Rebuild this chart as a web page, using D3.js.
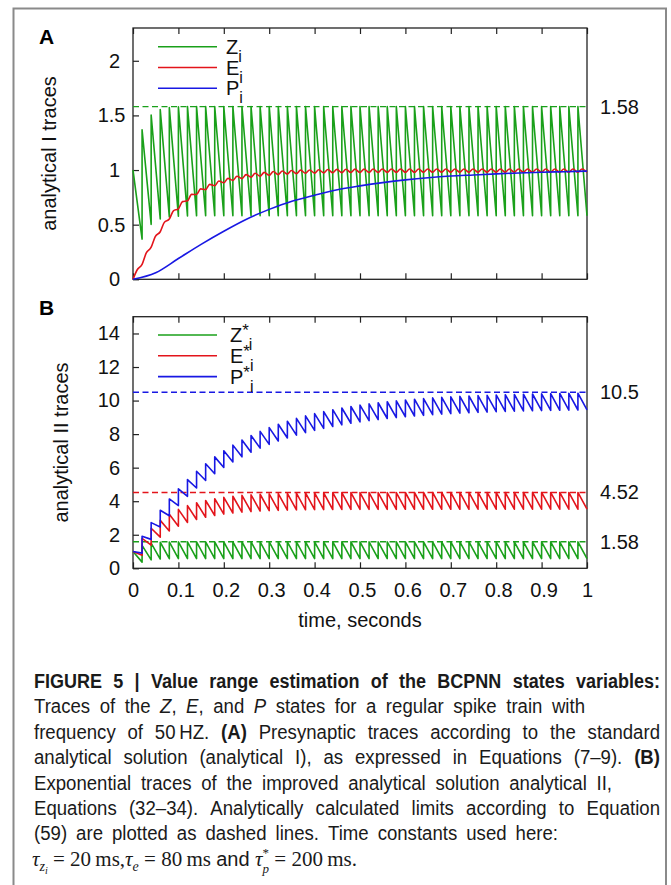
<!DOCTYPE html>
<html>
<head>
<meta charset="utf-8">
<script src="https://cdn.jsdelivr.net/npm/d3@7"></script>
<style>
body { margin: 0; background: #fff; }
svg { display: block; }
</style>
</head>
<body>
<svg id="fig" width="671" height="885"></svg>
<script>
// regular 50 Hz spike train, seconds
const spikeTimes = [0, 0.02, 0.04, 0.06, 0.08, 0.1, 0.12, 0.14, 0.16, 0.18,
	0.2, 0.22, 0.24, 0.26, 0.28, 0.3, 0.32, 0.34, 0.36, 0.38,
	0.4, 0.42, 0.44, 0.46, 0.48, 0.5, 0.52, 0.54, 0.56, 0.58,
	0.6, 0.62, 0.64, 0.66, 0.68, 0.7, 0.72, 0.74, 0.76, 0.78,
	0.8, 0.82, 0.84, 0.86, 0.88, 0.9, 0.92, 0.94, 0.96, 0.98]
const endTime = 1

// Z trace (same in both panels): value right after each spike / right before the next
const zPeak = [1.000, 1.368, 1.503, 1.553, 1.571, 1.578, 1.580, 1.581, 1.582, 1.582,
	1.582, 1.582, 1.582, 1.582, 1.582, 1.582, 1.582, 1.582, 1.582, 1.582,
	1.582, 1.582, 1.582, 1.582, 1.582, 1.582, 1.582, 1.582, 1.582, 1.582,
	1.582, 1.582, 1.582, 1.582, 1.582, 1.582, 1.582, 1.582, 1.582, 1.582,
	1.582, 1.582, 1.582, 1.582, 1.582, 1.582, 1.582, 1.582, 1.582, 1.582]
const zTrough = [0.368, 0.503, 0.553, 0.571, 0.578, 0.580, 0.581, 0.582, 0.582, 0.582,
	0.582, 0.582, 0.582, 0.582, 0.582, 0.582, 0.582, 0.582, 0.582, 0.582,
	0.582, 0.582, 0.582, 0.582, 0.582, 0.582, 0.582, 0.582, 0.582, 0.582,
	0.582, 0.582, 0.582, 0.582, 0.582, 0.582, 0.582, 0.582, 0.582, 0.582,
	0.582, 0.582, 0.582, 0.582, 0.582, 0.582, 0.582, 0.582, 0.582, 0.582]

// analytical I, E trace: value at each spike (local minima) and small bump after it
const eMin = [0, 0.137, 0.294, 0.435, 0.551, 0.645, 0.718, 0.776, 0.821, 0.856,
	0.883, 0.905, 0.921, 0.934, 0.944, 0.952, 0.958, 0.963, 0.967, 0.970,
	0.972, 0.974, 0.975, 0.976, 0.977, 0.977, 0.978, 0.978, 0.979, 0.979,
	0.979, 0.979, 0.980, 0.980, 0.980, 0.980, 0.980, 0.980, 0.980, 0.980,
	0.980, 0.980, 0.980, 0.980, 0.980, 0.980, 0.980, 0.980, 0.980, 0.980, 0.980]
const eMax = [0.085, 0.239, 0.391, 0.521, 0.627, 0.711, 0.777, 0.828, 0.869, 0.900,
	0.924, 0.943, 0.958, 0.970, 0.979, 0.986, 0.991, 0.996, 0.999, 1.001,
	1.003, 1.005, 1.006, 1.007, 1.008, 1.008, 1.009, 1.009, 1.010, 1.010,
	1.010, 1.010, 1.010, 1.010, 1.010, 1.010, 1.010, 1.010, 1.010, 1.010,
	1.010, 1.010, 1.010, 1.010, 1.010, 1.010, 1.010, 1.010, 1.010, 1.010]
const bumpLag = 0.009

// analytical I, P trace (smooth)
const pTimes = [0, 0.05, 0.1, 0.15, 0.2, 0.25, 0.3, 0.35, 0.4, 0.45, 0.5,
	0.55, 0.6, 0.65, 0.7, 0.75, 0.8, 0.85, 0.9, 0.95, 1]
const pVals = [0, 0.06, 0.19, 0.32, 0.44, 0.55, 0.64, 0.715, 0.77, 0.82, 0.855,
	0.885, 0.91, 0.93, 0.945, 0.955, 0.965, 0.973, 0.98, 0.985, 0.99]

// analytical II, E* and P* traces
const eStarPeak = [1.000, 1.779, 2.385, 2.858, 3.226, 3.512, 3.735, 3.909, 4.044, 4.150,
	4.232, 4.296, 4.346, 4.384, 4.415, 4.438, 4.456, 4.471, 4.482, 4.490,
	4.497, 4.502, 4.506, 4.510, 4.512, 4.514, 4.516, 4.517, 4.518, 4.518,
	4.519, 4.519, 4.519, 4.520, 4.520, 4.520, 4.520, 4.520, 4.521, 4.521,
	4.521, 4.521, 4.521, 4.521, 4.521, 4.521, 4.521, 4.521, 4.521, 4.521]
const eStarTrough = [0.779, 1.385, 1.858, 2.226, 2.512, 2.735, 2.909, 3.044, 3.150, 3.232,
	3.296, 3.346, 3.384, 3.415, 3.438, 3.456, 3.471, 3.482, 3.490, 3.497,
	3.502, 3.506, 3.510, 3.512, 3.514, 3.516, 3.517, 3.518, 3.518, 3.519,
	3.519, 3.519, 3.520, 3.520, 3.520, 3.520, 3.520, 3.521, 3.521, 3.521,
	3.521, 3.521, 3.521, 3.521, 3.521, 3.521, 3.521, 3.521, 3.521, 3.521]
const pStarPeak = [1.000, 1.905, 2.724, 3.464, 4.135, 4.741, 5.290, 5.787, 6.236, 6.642,
	7.010, 7.343, 7.644, 7.917, 8.163, 8.387, 8.588, 8.771, 8.936, 9.086,
	9.221, 9.344, 9.455, 9.555, 9.646, 9.728, 9.802, 9.869, 9.930, 9.985,
	10.035, 10.080, 10.121, 10.158, 10.191, 10.221, 10.249, 10.273, 10.296, 10.316,
	10.334, 10.351, 10.366, 10.380, 10.392, 10.403, 10.413, 10.422, 10.430, 10.438]
const pStarTrough = [0.905, 1.724, 2.464, 3.135, 3.741, 4.290, 4.787, 5.236, 5.642, 6.010,
	6.343, 6.644, 6.917, 7.163, 7.387, 7.588, 7.771, 7.936, 8.086, 8.221,
	8.344, 8.455, 8.555, 8.646, 8.728, 8.802, 8.869, 8.930, 8.985, 9.035,
	9.080, 9.121, 9.158, 9.191, 9.221, 9.249, 9.273, 9.296, 9.316, 9.334,
	9.351, 9.366, 9.380, 9.392, 9.403, 9.413, 9.422, 9.430, 9.438, 9.444]

// analytic limits (dashed)
const limitsA = [{ v: 1.58, label: '1.58', c: 'g' }]
const limitsB = [{ v: 10.5, label: '10.5', c: 'b' }, { v: 4.52, label: '4.52', c: 'r' }, { v: 1.58, label: '1.58', c: 'g' }]

const xTicks = [0, 0.1, 0.2, 0.3, 0.4, 0.5, 0.6, 0.7, 0.8, 0.9, 1]
const yTicksA = [0, 0.5, 1, 1.5, 2]
const yTicksB = [0, 2, 4, 6, 8, 10, 12, 14]

const legendNames = [{ name: 'Z', c: 'g' }, { name: 'E', c: 'r' }, { name: 'P', c: 'b' }]

const col = { g: '#1aa01a', r: '#e3141b', b: '#1818e3' }
const font = "'Liberation Sans', Arial, Helvetica, sans-serif"

const svg = d3.select('#fig')

// figure frame
svg.append('path')
	.attr('d', 'M13.5,885 V8.5 H666 V885')
	.attr('fill', 'none')
	.attr('stroke', '#8a8a8a')
	.attr('stroke-width', 2)

let left = 133, right = 587

let x = d3.scaleLinear().domain([0, 1]).range([left, right])
let yA = d3.scaleLinear().domain([0, 2.3]).range([279.3, 28])
let yB = d3.scaleLinear().domain([0, 15]).range([568.3, 316.7])

function saw(peaks, troughs) {
	let pts = []
	peaks.forEach(function (p, i) {
		pts.push([spikeTimes[i], p])
		pts.push([i + 1 < spikeTimes.length ? spikeTimes[i + 1] : endTime, troughs[i]])
	})
	return pts
}

function panel(y, yTicks, decimalShift, showXLabels) {
	let g = svg.append('g')
		.attr('font-family', font)
		.attr('font-size', 20)

	let yAxis = d3.axisLeft(y).tickValues(yTicks).tickFormat(d => String(d))
		.tickSize(-6).tickSizeOuter(0).tickPadding(13)
	let yG = g.append('g').attr('transform', `translate(${left},0)`).call(yAxis)
	yG.select('.domain').remove()
	yG.selectAll('text')
		.attr('font-family', font).attr('font-size', 20).attr('fill', '#111')
		.attr('dx', d => String(d).includes('.') ? decimalShift : 0)
	yG.selectAll('line').attr('stroke', '#222').attr('stroke-width', 1.2)

	let xAxis = d3.axisBottom(x).tickValues(xTicks).tickFormat(d => String(d))
		.tickSize(-6).tickSizeOuter(0).tickPadding(14.5)
	if (!showXLabels) xAxis.tickFormat('')
	let xG = g.append('g').attr('transform', `translate(0,${y.range()[0]})`).call(xAxis)
	xG.select('.domain').remove()
	xG.selectAll('text')
		.attr('font-family', font).attr('font-size', 20).attr('fill', '#111')
		.attr('dx', d => (d > 0 && d < 1) ? 2 : 0)
	xG.selectAll('line').attr('stroke', '#222').attr('stroke-width', 1.2)

	let topAxis = d3.axisTop(x).tickValues(xTicks).tickSize(-6).tickSizeOuter(0).tickFormat('')
	let tG = g.append('g').attr('transform', `translate(0,${y.range()[1]})`).call(topAxis)
	tG.select('.domain').remove()
	tG.selectAll('line').attr('stroke', '#222').attr('stroke-width', 1.2)

	g.append('rect')
		.attr('x', left).attr('y', y.range()[1])
		.attr('width', right - left).attr('height', y.range()[0] - y.range()[1])
		.attr('fill', 'none').attr('stroke', '#222').attr('stroke-width', 1.3)
	return g
}

function limits(g, y, list) {
	g.selectAll(null).data(list).enter().append('line')
		.attr('x1', left).attr('x2', right)
		.attr('y1', d => y(d.v)).attr('y2', d => y(d.v))
		.attr('stroke', d => col[d.c]).attr('stroke-width', 1.4)
		.attr('stroke-dasharray', '6,3.5')
	g.selectAll(null).data(list).enter().append('text')
		.attr('x', 600).attr('y', d => y(d.v)).attr('dy', '0.35em')
		.attr('font-family', font).attr('font-size', 20).attr('fill', '#111')
		.text(d => d.label)
}

function trace(g, pts, y, c, curve) {
	g.append('path')
		.datum(pts)
		.attr('d', d3.line().x(d => x(d[0])).y(d => y(d[1])).curve(curve || d3.curveLinear))
		.attr('fill', 'none')
		.attr('stroke', col[c])
		.attr('stroke-width', 1.6)
		.attr('stroke-linejoin', 'round')
}

function legend(g, y0, lx, star) {
	legendNames.forEach(function (d, i) {
		let ly = y0 + i * 20.8
		g.append('line')
			.attr('x1', 158).attr('x2', 217).attr('y1', ly).attr('y2', ly)
			.attr('stroke', col[d.c]).attr('stroke-width', 1.6)
		let t = g.append('text')
			.attr('x', lx).attr('y', ly + 7)
			.attr('font-family', font).attr('font-size', 20).attr('fill', '#111')
		t.append('tspan').text(d.name)
		if (star) {
			t.append('tspan').attr('font-size', 17).attr('dy', -6).text('*')
			t.append('tspan').attr('font-size', 16).attr('dy', 14).text('i')
		} else {
			t.append('tspan').attr('font-size', 16).attr('dy', 8).text('i')
		}
	})
}

// ---- panel A : analytical I
let gA = panel(yA, yTicksA, 5.5, false)
limits(gA, yA, limitsA)
trace(gA, saw(zPeak, zTrough), yA, 'g')
let ePts = []
spikeTimes.forEach(function (t, i) {
	ePts.push([t, eMin[i]])
	ePts.push([t + bumpLag, eMax[i]])
})
ePts.push([endTime, eMin[eMin.length - 1]])
trace(gA, ePts, yA, 'r', d3.curveMonotoneX)
trace(gA, pTimes.map((t, i) => [t, pVals[i]]), yA, 'b', d3.curveMonotoneX)
legend(gA, 46.7, 226, false)

// ---- panel B : analytical II
let gB = panel(yB, yTicksB, 0, true)
limits(gB, yB, limitsB)
trace(gB, saw(zPeak, zTrough), yB, 'g')
trace(gB, saw(eStarPeak, eStarTrough), yB, 'r')
trace(gB, saw(pStarPeak, pStarTrough), yB, 'b')
legend(gB, 335, 230, true)

// panel letters and axis titles
svg.append('text').attr('x', 39).attr('y', 43.5)
	.attr('font-family', font).attr('font-size', 21).attr('font-weight', 'bold').text('A')
svg.append('text').attr('x', 39).attr('y', 315)
	.attr('font-family', font).attr('font-size', 21).attr('font-weight', 'bold').text('B')

svg.append('text')
	.attr('transform', 'translate(56,153.5) rotate(-90)')
	.attr('text-anchor', 'middle')
	.attr('font-family', font).attr('font-size', 20).attr('fill', '#111')
	.text('analytical I traces')
svg.append('text')
	.attr('transform', 'translate(68,442.5) rotate(-90)')
	.attr('text-anchor', 'middle')
	.attr('font-family', font).attr('font-size', 20).attr('fill', '#111')
	.text('analytical II traces')
svg.append('text')
	.attr('x', 360).attr('y', 627)
	.attr('text-anchor', 'middle')
	.attr('font-family', font).attr('font-size', 20).attr('fill', '#111')
	.text('time, seconds')

// ---- caption
const captionLines = [
	{ runs: [['FIGURE 5 | Value range estimation of the BCPNN states variables:', 'b']], right: 660, squeeze: 0.9 },
	{ runs: [['Traces of the ', ''], ['Z', 'i'], [', ', ''], ['E', 'i'], [', and ', ''], ['P', 'i'], [' states for a regular spike train with', '']], right: 585, squeeze: 0.93 },
	{ runs: [['frequency of 50\u2009HZ. ', ''], ['(A)', 'b'], [' Presynaptic traces according to the standard', '']], right: 660, squeeze: 0.93 },
	{ runs: [['analytical solution (analytical I), as expressed in Equations (7\u20139). ', ''], ['(B)', 'b']], right: 660, squeeze: 0.93 },
	{ runs: [['Exponential traces of the improved analytical solution analytical II,', '']], right: 612, squeeze: 0.93 },
	{ runs: [['Equations (32\u201334). Analytically calculated limits according to Equation', '']], right: 660, squeeze: 0.93 },
	{ runs: [['(59) are plotted as dashed lines. Time constants used here:', '']], right: 558, squeeze: 0.93 }
]
const capLeft = 34, capTop = 688, capStep = 25.4, capSize = 20

function wordsOf(runs) {
	let words = [[]]
	runs.forEach(function (r) {
		r[0].split(/( )/).forEach(function (part) {
			if (part === ' ') words.push([])
			else if (part) words[words.length - 1].push([part, r[1]])
		})
	})
	return words.filter(w => w.length)
}

let cap = svg.append('g')
	.attr('font-family', font).attr('font-size', capSize).attr('fill', '#1a1a1a')

captionLines.forEach(function (line, li) {
	let ly = capTop + li * capStep
	let nodes = wordsOf(line.runs).map(function (w) {
		let t = cap.append('text').attr('y', ly)
		w.forEach(function (r) {
			t.append('tspan')
				.attr('font-weight', r[1] === 'b' ? 'bold' : null)
				.attr('font-style', r[1] === 'i' ? 'italic' : null)
				.text(r[0])
		})
		return t
	})
	// narrower glyphs, like the condensed face of the original
	let widths = nodes.map(function (t) {
		let w = t.node().getComputedTextLength() * line.squeeze
		t.attr('textLength', w).attr('lengthAdjust', 'spacingAndGlyphs')
		return w
	})
	let gap = (line.right - capLeft - d3.sum(widths)) / (nodes.length - 1)
	gap = Math.max(gap, 2.5)
	let cx = capLeft
	nodes.forEach(function (t, i) {
		t.attr('x', cx)
		cx += widths[i] + gap
	})
})

// math line
let serif = "'Liberation Serif', 'Times New Roman', serif"
let m = svg.append('text')
	.attr('x', capLeft - 2).attr('y', capTop + 7 * capStep)
	.attr('font-family', serif).attr('font-size', 21).attr('fill', '#1a1a1a')
m.append('tspan').attr('font-style', 'italic').text('\u03c4')
m.append('tspan').attr('font-style', 'italic').attr('font-size', 14).attr('dy', 5).text('z')
m.append('tspan').attr('font-style', 'italic').attr('font-size', 10).attr('dy', 3).text('i')
m.append('tspan').attr('dy', -8).text(' = 20\u2009ms,')
m.append('tspan').attr('font-style', 'italic').text('\u03c4')
m.append('tspan').attr('font-style', 'italic').attr('font-size', 14).attr('dy', 5).text('e')
m.append('tspan').attr('dy', -5).text(' = 80\u2009ms ')
m.append('tspan').attr('font-family', font).attr('font-size', 20).text(' and  ')
m.append('tspan').attr('font-style', 'italic').text('\u03c4')
m.append('tspan').attr('font-size', 13).attr('dy', -9).text('*')
m.append('tspan').attr('font-style', 'italic').attr('font-size', 13).attr('dx', -6.5).attr('dy', 16).text('p')
m.append('tspan').attr('dy', -7).text(' = 200\u2009ms.')
</script>
</body>
</html>
